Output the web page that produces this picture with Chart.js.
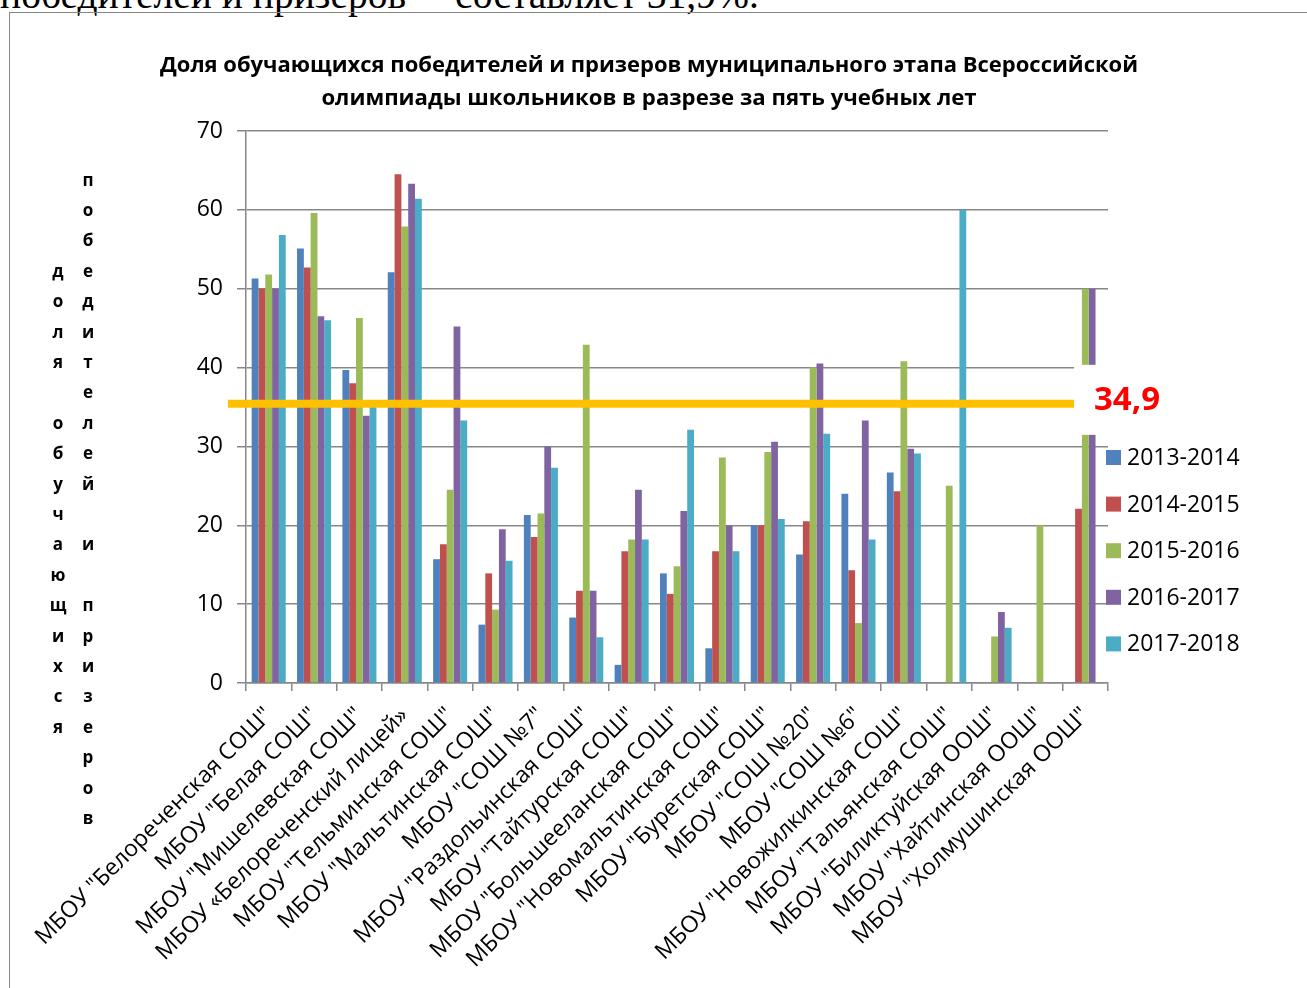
<!DOCTYPE html>
<html lang="ru">
<head>
<meta charset="utf-8">
<script src="https://cdn.jsdelivr.net/npm/chart.js@4.4.0/dist/chart.umd.min.js"></script>
<style>
  html, body { margin: 0; padding: 0; background: #fff; overflow: hidden; }
  #page { position: relative; width: 1307px; height: 988px; overflow: hidden; }
  #above {
    position: absolute; left: 0; top: -24px;
    font-family: "Liberation Serif", "Times New Roman", serif;
    font-size: 39.5px; line-height: 1; white-space: nowrap; color: #000;
  }
  #frame {
    position: absolute; left: 9px; top: 12px; width: 1400px; height: 1100px;
    border-left: 1.5px solid #878787; border-top: 1.5px solid #878787;
  }
  #wrap { position: absolute; left: 0; top: 0; width: 1307px; height: 988px; }
</style>
</head>
<body>
<div id="page">
  <div id="above">победителей и призеров" - составляет 31,9%.</div>
  <div id="frame"></div>
  <div id="wrap"><canvas id="chart"></canvas></div>
</div>
<script>
// schools (categories)
const schools = [
  'МБОУ "Белореченская СОШ"',
  'МБОУ "Белая СОШ"',
  'МБОУ "Мишелевская СОШ"',
  'МБОУ «Белореченский лицей»',
  'МБОУ "Тельминская СОШ"',
  'МБОУ "Мальтинская СОШ"',
  'МБОУ "СОШ №7"',
  'МБОУ "Раздольинская СОШ"',
  'МБОУ "Тайтурская СОШ"',
  'МБОУ "Большееланская СОШ"',
  'МБОУ "Новомальтинская СОШ"',
  'МБОУ "Буретская СОШ"',
  'МБОУ "СОШ №20"',
  'МБОУ "СОШ №6"',
  'МБОУ "Новожилкинская СОШ"',
  'МБОУ "Тальянская СОШ"',
  'МБОУ "Биликтуйская ООШ"',
  'МБОУ "Хайтинская ООШ"',
  'МБОУ "Холмушинская ООШ"'
];

const years = ['2013-2014', '2014-2015', '2015-2016', '2016-2017', '2017-2018'];

// share of winners and prize-winners, %
const y2013 = [51.3, 55.1, 39.7, 52.1, 15.7, 7.4, 21.3, 8.3, 2.3, 13.9, 4.4, 20.0, 16.3, 24.0, 26.7, null, null, null, null];
const y2014 = [50.0, 52.7, 38.0, 64.5, 17.6, 13.9, 18.5, 11.7, 16.7, 11.3, 16.7, 20.0, 20.5, 14.3, 24.3, null, null, null, 22.1];
const y2015 = [51.8, 59.6, 46.3, 57.9, 24.5, 9.3, 21.5, 42.9, 18.2, 14.8, 28.6, 29.3, 40.0, 7.6, 40.8, 25.0, 5.9, 20.0, 50.0];
const y2016 = [50.0, 46.5, 33.9, 63.3, 45.2, 19.5, 30.0, 11.7, 24.5, 21.8, 20.0, 30.6, 40.5, 33.3, 29.7, null, 9.0, null, 50.0];
const y2017 = [56.8, 46.0, 35.0, 61.4, 33.3, 15.5, 27.3, 5.8, 18.2, 32.1, 16.7, 20.8, 31.6, 18.2, 29.1, 60.0, 7.0, null, null];

const yTicks = [0, 10, 20, 30, 40, 50, 60, 70];

// average line drawn over the bars
const avgLabel = '34,9';
const avgLinePos = 35.4;

const colors = ['#4F81BD', '#C0504D', '#9BBB59', '#8064A2', '#4BACC6'];
const series = [y2013, y2014, y2015, y2016, y2017];

const titleLines = [
  'Доля обучающихся победителей и призеров муниципального этапа Всероссийской',
  'олимпиады школьников в разрезе за пять учебных лет'
];
const axisTitleCols = ['доля обучающихся', 'победителей и призеров'];

const FONT = '"Open Sans", "Noto Sans", sans-serif';

// orange line + white note box with the value
const avgLinePlugin = {
  id: 'avgLine',
  afterDatasetsDraw(chart) {
    const ctx = chart.ctx;
    const yPx = chart.scales.y.getPixelForValue(avgLinePos);
    ctx.save();
    ctx.strokeStyle = '#FFC000';
    ctx.lineWidth = 8;
    ctx.beginPath();
    ctx.moveTo(chart.chartArea.left - 18, yPx);
    ctx.lineTo(1074, yPx);
    ctx.stroke();

    ctx.fillStyle = '#fff';
    ctx.fillRect(1074, yPx - 39, 110, 70);

    ctx.fillStyle = '#FF0000';
    ctx.font = 'bold 33px ' + FONT;
    ctx.textBaseline = 'middle';
    ctx.textAlign = 'left';
    ctx.fillText(avgLabel, 1094, yPx - 3);
    ctx.restore();
  }
};

// legend on the right and stacked vertical axis title
const extrasPlugin = {
  id: 'extras',
  afterDraw(chart) {
    const ctx = chart.ctx;
    ctx.save();
    chart.data.datasets.forEach((ds, i) => {
      const cy = 457.5 + i * 46.6;
      ctx.fillStyle = ds.backgroundColor;
      ctx.fillRect(1106, cy - 7.5, 15, 15);
      ctx.fillStyle = '#000';
      ctx.font = '23px ' + FONT;
      ctx.textBaseline = 'middle';
      ctx.textAlign = 'left';
      ctx.fillText(ds.label, 1127, cy + 1);
    });

    ctx.font = 'bold 17px ' + FONT;
    ctx.textAlign = 'center';
    ctx.textBaseline = 'middle';
    ctx.fillStyle = '#000';
    const colX = [58, 88];
    const step = 30.4;
    axisTitleCols.forEach((txt, c) => {
      const chars = Array.from(txt);
      const startY = 500 - (chars.length - 1) * step / 2;
      chars.forEach((ch, k) => {
        ctx.fillText(ch, colX[c], startY + k * step);
      });
    });
    ctx.restore();
  }
};

new Chart(document.getElementById('chart'), {
  type: 'bar',
  data: {
    labels: schools,
    datasets: series.map((vals, i) => ({
      label: years[i],
      data: vals,
      backgroundColor: colors[i],
      borderWidth: 0,
      barPercentage: 1,
      categoryPercentage: 0.75
    }))
  },
  options: {
    responsive: true,
    maintainAspectRatio: false,
    animation: false,
    layout: { padding: { left: 160, right: 169, top: 49.5, bottom: 0 } },
    plugins: {
      legend: { display: false },
      tooltip: { enabled: false },
      title: {
        display: true,
        text: titleLines,
        color: '#000',
        font: { family: FONT, size: 22.2, weight: 'bold', lineHeight: 1.486 },
        padding: { top: 0, bottom: 15.5 }
      }
    },
    scales: {
      x: {
        grid: {
          display: true, drawOnChartArea: false, drawTicks: true,
          tickLength: 8, color: '#878787', lineWidth: 1.5, offset: true
        },
        border: { display: true, color: '#878787', width: 1.5 },
        ticks: {
          autoSkip: false, minRotation: 45, maxRotation: 45,
          color: '#000', padding: 11,
          font: { family: FONT, size: 23 }
        },
        afterFit(scale) { scale.height = 305; }
      },
      y: {
        min: 0, max: 70,
        afterBuildTicks(scale) { scale.ticks = yTicks.map(v => ({ value: v })); },
        grid: { color: '#878787', lineWidth: 1.5, tickLength: 9, drawTicks: true },
        border: { display: true, color: '#878787', width: 1.5 },
        ticks: {
          color: '#000', padding: 14,
          font: { family: FONT, size: 23 }
        },
        afterFit(scale) { scale.width = 86; }
      },
      // empty spacer on the right so the plot ends where the legend starts
      spacer: {
        type: 'linear', position: 'right', min: 0, max: 1,
        grid: { display: false },
        border: { display: false },
        ticks: { display: false },
        afterFit(scale) { scale.width = 30; }
      }
    }
  },
  plugins: [avgLinePlugin, extrasPlugin]
});
</script>
</body>
</html>
